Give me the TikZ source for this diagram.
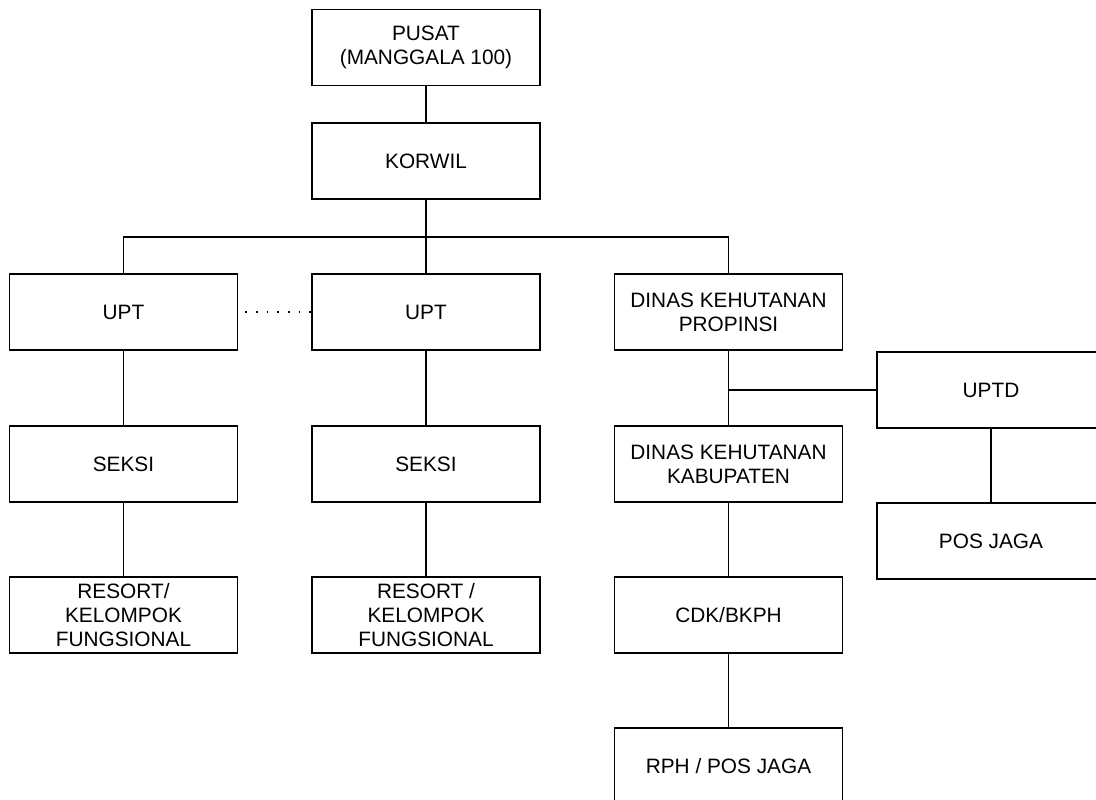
\documentclass[tikz,border=0pt]{standalone}
\usepackage{fontspec}
\setmainfont{Liberation Sans}
\usepackage{tikz}
\usetikzlibrary{positioning}
\usetikzlibrary{calc}

\begin{document}
\begin{tikzpicture}
			[
				x = 0.025cm, y = -0.025cm,
				unit/.style = {rectangle, draw = black, line width = 1pt, minimum width = 5.7cm, minimum height = 1.9cm, inner sep = 0pt, align = center, font = \fontsize{14.8}{17}\selectfont},
				link/.style = {line width = 1pt},
				dots/.style = {line width = 1.2pt, dash pattern = on 1.2pt off 6.4pt},
			]
			\useasboundingbox (0, 0) rectangle (1096, 800);
			\node (pusat) [unit] at (426, 47.5) {PUSAT\\(MANGGALA 100)};
			\node (korwil) [unit] at (426, 161) {KORWIL};
			\node (uptA) [unit] at (123.5, 312) {UPT};
			\node (uptB) [unit] at (426, 312) {UPT};
			\node (propinsi) [unit] at (728.5, 312) {DINAS KEHUTANAN\\PROPINSI};
			\node (uptd) [unit] at (991, 390) {UPTD};
			\node (seksiA) [unit] at (123.5, 464) {SEKSI};
			\node (seksiB) [unit] at (426, 464) {SEKSI};
			\node (kabupaten) [unit] at (728.5, 464) {DINAS KEHUTANAN\\KABUPATEN};
			\node (posjaga) [unit] at (991, 541) {POS JAGA};
			\node (resortA) [unit] at (123.5, 615) {RESORT/\\KELOMPOK\\FUNGSIONAL};
			\node (resortB) [unit] at (426, 615) {RESORT /\\KELOMPOK\\FUNGSIONAL};
			\node (cdk) [unit] at (728.5, 615) {CDK/BKPH};
			\node (rph) [unit] at (728.5, 766) {RPH / POS JAGA};
			\coordinate (bus) at (426, 237);
			\coordinate (branch) at (728.5, 390);
			\draw [link] (pusat) -- (korwil);
			\draw [link] (korwil) -- (uptB);
			\draw [link] (uptA.north) -- (uptA.north |- bus) -- (propinsi.north |- bus) -- (propinsi.north);
			\draw [link] (propinsi) -- (kabupaten);
			\draw [link] (branch) -- (uptd.west);
			\draw [link] (uptd) -- (posjaga);
			\draw [link] (uptA) -- (seksiA);
			\draw [link] (seksiA) -- (resortA);
			\draw [link] (uptB) -- (seksiB);
			\draw [link] (seksiB) -- (resortB);
			\draw [link] (kabupaten) -- (cdk);
			\draw [link] (cdk) -- (rph);
			\draw [dots] ($(uptA.east) + (7, 0)$) -- (uptB.west);
		\end{tikzpicture}
\end{document}
